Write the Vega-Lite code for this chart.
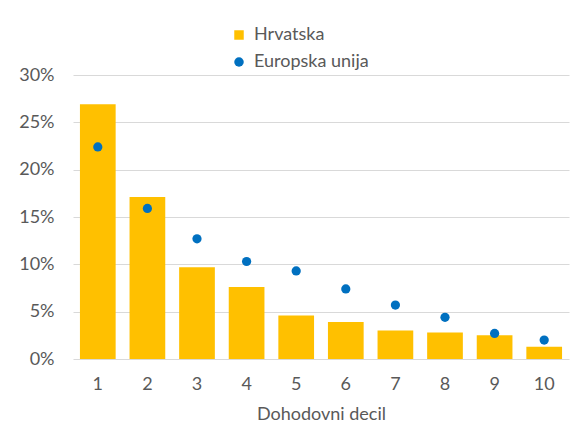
{
  "$schema": "https://vega.github.io/schema/vega-lite/v6.json",
  "width": 496,
  "height": 284,
  "autosize": {"type": "none"},
  "padding": {"left": 73, "top": 75, "right": 5, "bottom": 80},
  "background": "white",
  "config": {
    "view": {"stroke": null},
    "font": "Lato",
    "axis": {"labelFont": "Lato", "titleFont": "Lato", "labelColor": "#595959", "titleColor": "#595959", "labelFontSize": 18, "titleFontSize": 18, "titleFontWeight": "normal"},
    "legend": {"labelFont": "Lato", "labelFontSize": 18, "labelColor": "#595959"}
  },
  "data": {
    "values": [
      {"decil": "1", "serija": "Hrvatska", "udio": 0.269},
      {"decil": "2", "serija": "Hrvatska", "udio": 0.171},
      {"decil": "3", "serija": "Hrvatska", "udio": 0.097},
      {"decil": "4", "serija": "Hrvatska", "udio": 0.076},
      {"decil": "5", "serija": "Hrvatska", "udio": 0.046},
      {"decil": "6", "serija": "Hrvatska", "udio": 0.039},
      {"decil": "7", "serija": "Hrvatska", "udio": 0.030},
      {"decil": "8", "serija": "Hrvatska", "udio": 0.028},
      {"decil": "9", "serija": "Hrvatska", "udio": 0.025},
      {"decil": "10", "serija": "Hrvatska", "udio": 0.013},
      {"decil": "1", "serija": "Europska unija", "udio": 0.224},
      {"decil": "2", "serija": "Europska unija", "udio": 0.159},
      {"decil": "3", "serija": "Europska unija", "udio": 0.127},
      {"decil": "4", "serija": "Europska unija", "udio": 0.103},
      {"decil": "5", "serija": "Europska unija", "udio": 0.093},
      {"decil": "6", "serija": "Europska unija", "udio": 0.074},
      {"decil": "7", "serija": "Europska unija", "udio": 0.057},
      {"decil": "8", "serija": "Europska unija", "udio": 0.044},
      {"decil": "9", "serija": "Europska unija", "udio": 0.027},
      {"decil": "10", "serija": "Europska unija", "udio": 0.020}
    ]
  },
  "encoding": {
    "x": {
      "field": "decil", "type": "ordinal", "sort": ["1","2","3","4","5","6","7","8","9","10"],
      "scale": {"paddingInner": 0.28, "paddingOuter": 0.14},
      "axis": {"title": "Dohodovni decil", "labelAngle": 0, "ticks": false, "domain": false, "labelPadding": 16, "titlePadding": 12, "grid": false}
    },
    "y": {
      "field": "udio", "type": "quantitative",
      "scale": {"domain": [0, 0.3], "nice": false},
      "axis": {"title": null, "format": ".0%", "values": [0, 0.05, 0.1, 0.15, 0.2, 0.25, 0.3], "ticks": false, "domain": false, "labelPadding": 19, "gridColor": "#D9D9D9", "gridWidth": 1.2}
    },
    "color": {
      "field": "serija", "type": "nominal",
      "scale": {"domain": ["Hrvatska", "Europska unija"], "range": ["#FFC000", "#0070C0"]},
      "legend": {"title": null, "orient": "none", "legendX": 157, "legendY": -49, "padding": 0, "rowPadding": 9, "symbolSize": 90, "labelOffset": 6, "symbolOpacity": 1}
    }
  },
  "layer": [
    {
      "transform": [{"filter": "datum.serija == 'Hrvatska'"}],
      "mark": {"type": "bar"}
    },
    {
      "transform": [{"filter": "datum.serija == 'Europska unija'"}],
      "mark": {"type": "point", "filled": true, "size": 85, "opacity": 1},
      "encoding": {
        "shape": {"field": "serija", "type": "nominal", "scale": {"domain": ["Hrvatska", "Europska unija"], "range": ["square", "circle"]}, "legend": {"title": null, "orient": "none", "legendX": 157, "legendY": -49, "padding": 0, "rowPadding": 9, "symbolSize": 90, "labelOffset": 6}}
      }
    }
  ]
}
